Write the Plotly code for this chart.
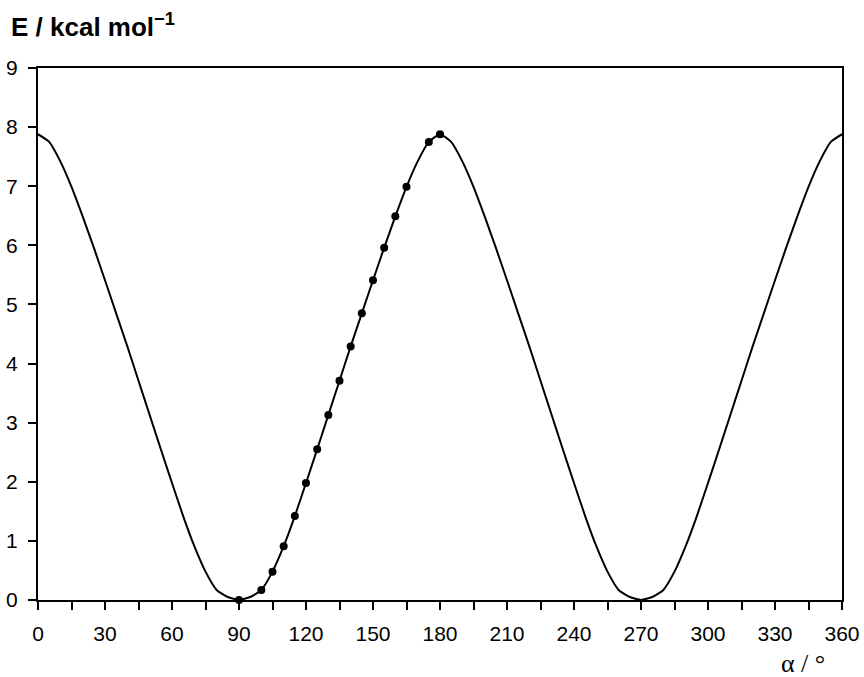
import plotly.graph_objects as go

curve_alpha = [0, 5, 10, 15, 20, 25, 30, 35, 40, 45, 50, 55, 60, 65, 70, 75, 80, 85,
               90, 95, 100, 105, 110, 115, 120, 125, 130, 135, 140, 145, 150, 155, 160, 165,
               170, 175, 180, 185, 190, 195, 200, 205, 210, 215, 220, 225, 230, 235, 240,
               245, 250, 255, 260, 265, 270, 275, 280, 285, 290, 295, 300, 305, 310, 315,
               320, 325, 330, 335, 340, 345, 350, 355, 360]
curve_E = [7.88, 7.75, 7.42, 6.99, 6.49, 5.96, 5.41, 4.85, 4.29, 3.71, 3.13, 2.55, 1.98,
           1.42, 0.91, 0.48, 0.17, 0.05,
           0.00, 0.05, 0.17, 0.48, 0.91, 1.42, 1.98, 2.55, 3.13, 3.71, 4.29, 4.85, 5.41,
           5.96, 6.49, 6.99, 7.42, 7.75, 7.88,
           7.75, 7.42, 6.99, 6.49, 5.96, 5.41, 4.85, 4.29, 3.71, 3.13, 2.55, 1.98, 1.42,
           0.91, 0.48, 0.17, 0.05, 0.00, 0.05, 0.17, 0.48, 0.91, 1.42, 1.98, 2.55, 3.13,
           3.71, 4.29, 4.85, 5.41, 5.96, 6.49, 6.99, 7.42, 7.75, 7.88]

# Computed points (dots)
dot_alpha = [90, 100, 105, 110, 115, 120, 125, 130, 135, 140, 145, 150, 155, 160, 165, 175, 180]
dot_E = [0.00, 0.17, 0.48, 0.91, 1.42, 1.98, 2.55, 3.13, 3.71, 4.29, 4.85, 5.41, 5.96,
         6.49, 6.99, 7.75, 7.88]

y_title = "E / kcal mol<sup>−1</sup>"
x_title = "α / °"

FONT = "Liberation Sans, Arial, sans-serif"

fig = go.Figure()
fig.add_trace(go.Scatter(x=curve_alpha, y=curve_E, mode="lines",
                         line=dict(color="black", width=2, shape="spline", smoothing=0.5),
                         hoverinfo="skip", showlegend=False, cliponaxis=False))
fig.add_trace(go.Scatter(x=dot_alpha, y=dot_E, mode="markers",
                         marker=dict(color="black", size=8),
                         showlegend=False, cliponaxis=False))

axis_common = dict(showline=True, linecolor="black", linewidth=2, mirror=True,
                   showgrid=False, zeroline=False, ticks="outside", ticklen=8,
                   tickwidth=2, tickcolor="black", automargin=False,
                   tickfont=dict(family=FONT, size=21, color="black"))

fig.update_xaxes(range=[0, 360], dtick=30, tick0=0,
                 minor=dict(dtick=15, ticks="outside", ticklen=8, tickwidth=2,
                            tickcolor="black", showgrid=False),
                 ticklabelstandoff=6,
                 **axis_common)
fig.update_yaxes(range=[0, 9], dtick=1, tick0=0, ticklabelstandoff=6, **axis_common)

fig.update_layout(
    width=864, height=677,
    margin=dict(l=38, r=22, t=68, b=77),
    paper_bgcolor="white", plot_bgcolor="white",
    annotations=[
        dict(text="<b>" + y_title + "</b>", xref="paper", yref="paper",
             x=-29 / 804, y=1 + 43 / 532, xanchor="left", yanchor="middle",
             showarrow=False, font=dict(family=FONT, size=26, color="black")),
        dict(text=x_title, xref="paper", yref="paper",
             x=1 - 15 / 804, y=-63 / 532, xanchor="right", yanchor="middle",
             showarrow=False, font=dict(family="Liberation Serif, Times New Roman, serif",
                                        size=26, color="black")),
    ],
)

fig.write_html("out.html", config={"displayModeBar": False},
               post_script="document.body.style.margin='0px';")
